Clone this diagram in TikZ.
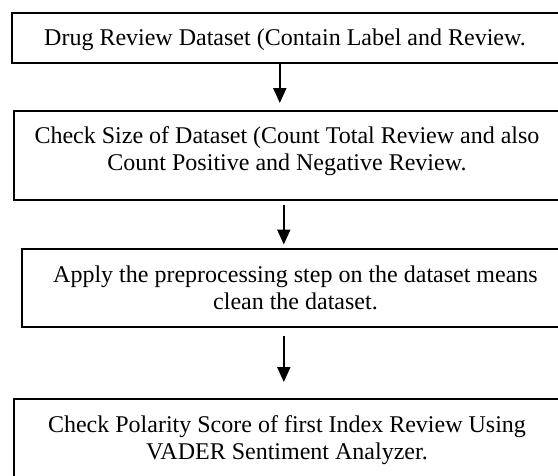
\documentclass[tikz,border=0pt]{standalone}
\usepackage{fontspec}
\setmainfont{Liberation Serif}
\usetikzlibrary{arrows.meta}
\tikzset{
  box/.style={draw=black, line width=1.6pt, rectangle, inner sep=0pt, anchor=north west, fill=white, minimum width=560pt},
  txt/.style={anchor=base, inner sep=0pt, font=\fontsize{24pt}{27pt}\selectfont},
  arr/.style={draw=black, line width=2pt, -{Triangle[width=13pt,length=15pt]}}
}
\newcommand{\twolines}[2]{\begin{tabular}[t]{@{}c@{}}#1\\#2\end{tabular}}
\begin{document}
\begin{tikzpicture}[x=1pt,y=-1pt]
\useasboundingbox (0,0) rectangle (558,475);
\clip (0,0) rectangle (558,475);
\fill[white] (0,0) rectangle (558,475);
\node[box, minimum height=50pt] (b1) at (11,12) {};
\node[box, minimum height=89pt] (b2) at (13,110) {};
\node[box, minimum height=78pt] (b3) at (21,248) {};
\node[box, minimum height=110pt] (b4) at (13,398) {};
\node[txt] (t1) at (285,45) {Drug Review Dataset (Contain Label and Review.};
\node[txt] (t2) at (287,143) {\twolines{Check Size of Dataset (Count Total Review and also}{Count Positive and Negative Review.}};
\node[txt] (t3) at (295.5,282) {\twolines{Apply the preprocessing step on the dataset means}{clean the dataset.}};
\node[txt] (t4) at (287,432) {\twolines{Check Polarity Score of first Index Review Using}{VADER Sentiment Analyzer.}};
\draw[arr] ([xshift=-12pt]b1.south) -- ([xshift=-14pt,yshift=7pt]b2.north);
\draw[arr] ([xshift=-10pt,yshift=-4pt]b2.south) -- ([xshift=-18pt,yshift=3.5pt]b3.north);
\draw[arr] ([xshift=-18pt,yshift=-8pt]b3.south) -- ([xshift=-10pt,yshift=16pt]b4.north);
\end{tikzpicture}
\end{document}
